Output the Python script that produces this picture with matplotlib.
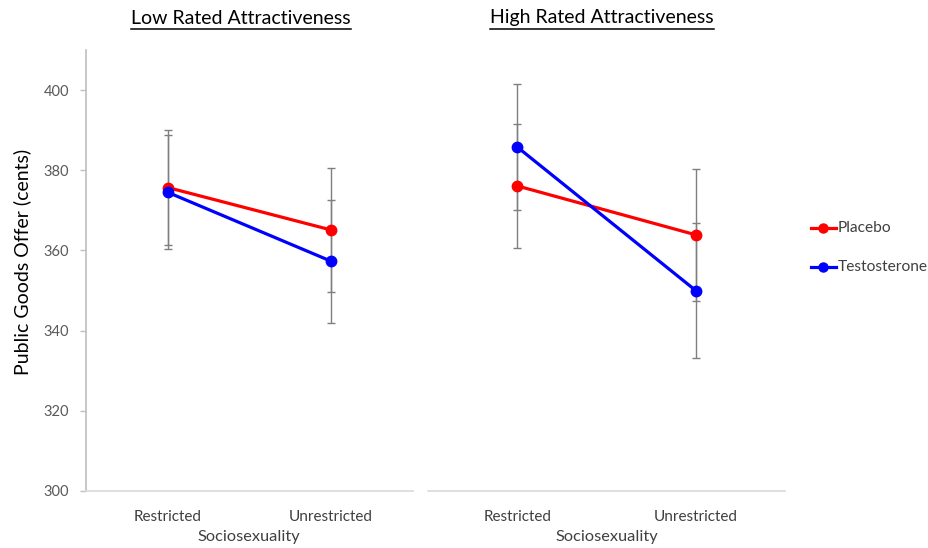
import matplotlib.pyplot as plt
from matplotlib.lines import Line2D

plt.rcParams["font.family"] = ["Lato", "DejaVu Sans"]

# group means and error bars (cents)
categories = ["Restricted", "Unrestricted"]
panels = ["Low Rated Attractiveness", "High Rated Attractiveness"]

low_placebo = [375.7, 365.1]
low_placebo_err = [14.3, 15.4]
low_testosterone = [374.5, 357.3]
low_testosterone_err = [14.2, 15.3]

high_placebo = [376.1, 363.9]
high_placebo_err = [15.5, 16.4]
high_testosterone = [385.8, 350.0]
high_testosterone_err = [15.6, 16.8]

yticks = [300, 320, 340, 360, 380, 400]

W, H = 929, 548
fig = plt.figure(figsize=(W / 100, H / 100), dpi=100)


def px(x, y):
    # pixel position (from top-left) to figure fraction
    return x / W, 1 - y / H


ax1 = fig.add_axes([86 / W, 1 - 491 / H, (413 - 86) / W, (491 - 50) / H])
ax2 = fig.add_axes([428 / W, 1 - 491 / H, (785 - 428) / W, (491 - 50) / H])

series = [
    (ax1, low_placebo, low_placebo_err, low_testosterone, low_testosterone_err),
    (ax2, high_placebo, high_placebo_err, high_testosterone, high_testosterone_err),
]

grey = "#7f7f7f"
for ax, p, pe, t, te in series:
    x = range(len(categories))
    for vals, errs, col in [(p, pe, "#ff0000"), (t, te, "#0000ff")]:
        ax.errorbar(x, vals, yerr=errs, fmt="none", ecolor=grey, elinewidth=1.0,
                    capsize=3, capthick=1.0, zorder=1)
        ax.plot(x, vals, color=col, lw=2.3, marker="o", ms=7.5, zorder=3)
    ax.set_xlim(-0.5, 1.5)
    ax.set_ylim(300, 410)
    ax.set_xticks(list(x))
    ax.set_xticklabels(categories, fontsize=11, color="#404040")
    ax.tick_params(axis="x", length=0, pad=14)
    for s in ["top", "right"]:
        ax.spines[s].set_visible(False)
    ax.spines["bottom"].set_color("#d9d9d9")
    ax.spines["bottom"].set_linewidth(1.2)

ax1.set_yticks(yticks)
ax1.tick_params(axis="y", length=4, width=1, color="#bfbfbf", labelsize=10.5,
                labelcolor="#595959", pad=8)
ax1.spines["left"].set_color("#bfbfbf")
ax1.spines["left"].set_linewidth(1.2)

ax2.spines["left"].set_visible(False)
ax2.set_yticks([])

# panel titles with underline
titles = []
for txt, cx in zip(panels, [241, 602]):
    titles.append(fig.text(*px(cx, 18), txt, ha="center", va="center",
                           fontsize=14, color="black"))

fig.text(*px(22, 262), "Public Goods Offer (cents)", rotation=90, ha="center",
         va="center", fontsize=14, color="black")
for cx in [249, 607]:
    fig.text(*px(cx, 537), "Sociosexuality", ha="center", va="center",
             fontsize=11.8, color="#404040")

# legend drawn by hand on the right
for label, col, y in [("Placebo", "#ff0000", 228), ("Testosterone", "#0000ff", 267)]:
    fig.add_artist(Line2D([811 / W, 836 / W], [1 - y / H] * 2, color=col, lw=2.3))
    fig.add_artist(Line2D([823.5 / W], [1 - y / H], color=col, marker="o", ms=6.5))
    fig.text(*px(838, y), label, ha="left", va="center", fontsize=11.2,
             color="#404040")

fig.canvas.draw()
r = fig.canvas.get_renderer()
for t in titles:
    bb = t.get_window_extent(r)
    yy = (bb.y0 - 2) / (H)
    fig.add_artist(Line2D([bb.x0 / W, bb.x1 / W], [yy, yy], color="black", lw=1.1))

fig.savefig("out.png", dpi=100)
